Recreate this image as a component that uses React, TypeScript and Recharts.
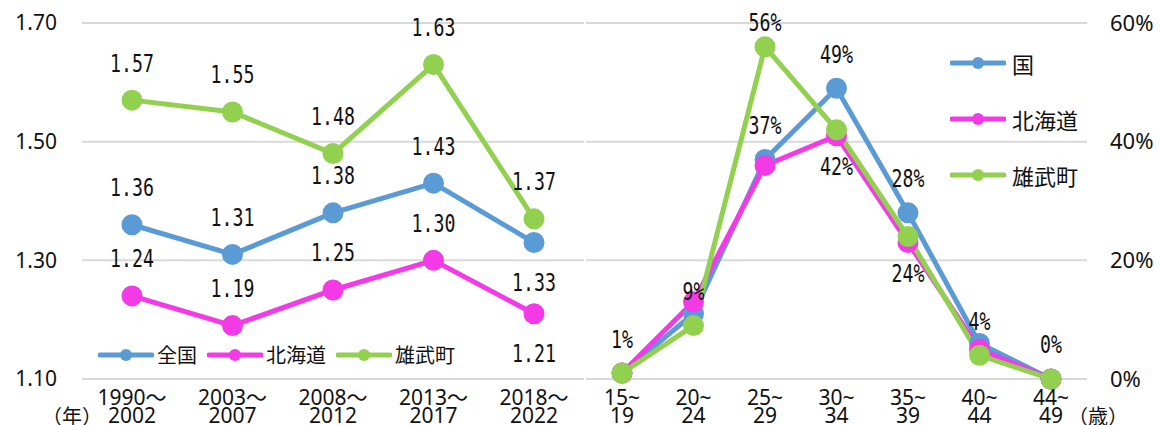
import React from 'react';
import { LineChart, Line, XAxis, YAxis, CartesianGrid, LabelList } from 'recharts';

// 合計特殊出生率（期間別）
const periods = ['1990～\n2002', '2003～\n2007', '2008～\n2012', '2013～\n2017', '2018～\n2022'];
const tfrNation = [1.36, 1.31, 1.38, 1.43, 1.33];
const tfrHokkaido = [1.24, 1.19, 1.25, 1.3, 1.21];
const tfrOumu = [1.57, 1.55, 1.48, 1.63, 1.37];
const tfrTicks = [1.1, 1.3, 1.5, 1.7];
const tfrNames = ['全国', '北海道', '雄武町'];

// 年齢階級別 累積出生率（%）
const ageGroups = ['15~\n19', '20~\n24', '25~\n29', '30~\n34', '35~\n39', '40~\n44', '44~\n49'];
const ageNation = [1, 11, 37, 49, 28, 6, 0];
const ageHokkaido = [1, 13, 36, 41, 23, 5, 0];
const ageOumu = [1, 9, 56, 42, 24, 4, 0];
const pctTicks = [0, 20, 40, 60];
const ageNames = ['国', '北海道', '雄武町'];

const BLUE = '#5b9bd5';
const PINK = '#f43ae6';
const GREEN = '#92d050';
const COLORS = [BLUE, PINK, GREEN];
const GRID = '#d9d9d9';
const TEXT = '#111';
const FONT = '"Noto Sans", "Noto Sans CJK JP", sans-serif';
const CJK = '"Noto Sans CJK JP", sans-serif';

const tfrData = periods.map((p, i) => ({
  period: p,
  nation: tfrNation[i],
  hokkaido: tfrHokkaido[i],
  oumu: tfrOumu[i],
}));

const ageData = ageGroups.map((g, i) => ({
  age: g,
  nation: ageNation[i],
  hokkaido: ageHokkaido[i],
  oumu: ageOumu[i],
}));

function TwoLineTick(props: any) {
  const { x, y, payload } = props;
  const [a, b] = String(payload.value).split('\n');
  return (
    <text x={x} y={y} textAnchor="middle" fontFamily={FONT} fontSize={21} fill={TEXT}>
      <tspan x={x} dy={18}>{a}</tspan>
      <tspan x={x} dy={18}>{b}</tspan>
    </text>
  );
}

// data labels: narrow, tall digits
function makeLabel(opts: { show?: number[]; below?: number[]; fmt: (v: number) => string; gap: number }) {
  return (props: any) => {
    const { x, y, value, index } = props;
    if (x == null || y == null) return null;
    if (opts.show && !opts.show.includes(index)) return null;
    const below = opts.below?.includes(index);
    let ly = below ? y + opts.gap + 3 : y - opts.gap;
    if (ly < 23) ly = 23;
    return (
      <g transform={`translate(${x},${ly}) scale(0.76,1)`}>
        <text
          x={0}
          y={0}
          textAnchor="middle"
          dominantBaseline="central"
          fontFamily='"DejaVu Sans Mono", monospace'
          fontSize={24}
          fill={TEXT}
        >
          {opts.fmt(value)}
        </text>
      </g>
    );
  };
}

const fmt2 = (v: number) => v.toFixed(2);
const fmtPct = (v: number) => `${v}%`;

function LegendIcon({ color }: { color: string }) {
  return (
    <svg width={56} height={14} style={{ display: 'block' }}>
      <line x1={2} y1={7} x2={54} y2={7} stroke={color} strokeWidth={5} strokeLinecap="round" />
      <circle cx={28} cy={7} r={6} fill={color} />
    </svg>
  );
}

export default function App() {
  return (
    <div style={{ position: 'absolute', left: 0, top: 0, width: 1161, height: 425, background: '#fff' }}>
      <div style={{ position: 'absolute', left: 0, top: 0 }}>
        <LineChart width={640} height={425} data={tfrData} margin={{ top: 23, right: 56, left: 0, bottom: 0 }}>
          <CartesianGrid vertical={false} stroke={GRID} strokeWidth={2} />
          <XAxis
            dataKey="period"
            axisLine={false}
            tickLine={false}
            height={46}
            interval={0}
            padding={{ left: 50, right: 50 }}
            tick={<TwoLineTick />}
          />
          <YAxis
            domain={[1.1, 1.7]}
            ticks={tfrTicks}
            tickFormatter={fmt2}
            axisLine={false}
            tickLine={false}
            width={82}
            tickMargin={19}
            tick={{ fontFamily: FONT, fontSize: 21, fill: TEXT }}
          />
          <Line dataKey="nation" name={tfrNames[0]} stroke={BLUE} strokeWidth={5} dot={{ r: 8, fill: BLUE, stroke: BLUE }} isAnimationActive={false}>
            <LabelList dataKey="nation" content={makeLabel({ below: [4], fmt: fmt2, gap: 37 })} />
          </Line>
          <Line dataKey="hokkaido" name={tfrNames[1]} stroke={PINK} strokeWidth={5} dot={{ r: 8, fill: PINK, stroke: PINK }} isAnimationActive={false}>
            <LabelList dataKey="hokkaido" content={makeLabel({ below: [4], fmt: fmt2, gap: 37 })} />
          </Line>
          <Line dataKey="oumu" name={tfrNames[2]} stroke={GREEN} strokeWidth={5} dot={{ r: 8, fill: GREEN, stroke: GREEN }} isAnimationActive={false}>
            <LabelList dataKey="oumu" content={makeLabel({ fmt: fmt2, gap: 37 })} />
          </Line>
        </LineChart>
      </div>
      <div style={{ position: 'absolute', left: 98, top: 343, display: 'flex', alignItems: 'center' }}>
        {tfrNames.map((n, i) => (
          <div key={n} style={{ display: 'flex', alignItems: 'center', marginRight: 10 }}>
            <LegendIcon color={COLORS[i]} />
            <span style={{ fontFamily: CJK, fontSize: 20, color: TEXT, marginLeft: 3, lineHeight: '24px' }}>{n}</span>
          </div>
        ))}
      </div>
      <div style={{ position: 'absolute', left: 42, top: 403, fontFamily: CJK, fontSize: 20, color: TEXT, lineHeight: '26px' }}>
        （年）
      </div>

      <div style={{ position: 'absolute', left: 586, top: 0 }}>
        <LineChart width={575} height={425} data={ageData} margin={{ top: 23, right: 0, left: 0, bottom: 0 }}>
          <CartesianGrid vertical={false} stroke={GRID} strokeWidth={2} />
          <XAxis
            dataKey="age"
            axisLine={false}
            tickLine={false}
            height={46}
            interval={0}
            padding={{ left: 36, right: 36 }}
            tick={<TwoLineTick />}
          />
          <YAxis
            orientation="right"
            domain={[0, 60]}
            ticks={pctTicks}
            tickFormatter={fmtPct}
            axisLine={false}
            tickLine={false}
            width={74}
            tickMargin={17}
            tick={{ fontFamily: FONT, fontSize: 22, fill: TEXT }}
          />
          <Line dataKey="nation" name={ageNames[0]} stroke={BLUE} strokeWidth={5} dot={{ r: 8, fill: BLUE, stroke: BLUE }} isAnimationActive={false}>
            <LabelList dataKey="nation" content={makeLabel({ show: [2, 3, 4], fmt: fmtPct, gap: 34 })} />
          </Line>
          <Line dataKey="hokkaido" name={ageNames[1]} stroke={PINK} strokeWidth={5} dot={{ r: 8, fill: PINK, stroke: PINK }} isAnimationActive={false} />
          <Line dataKey="oumu" name={ageNames[2]} stroke={GREEN} strokeWidth={5} dot={{ r: 8, fill: GREEN, stroke: GREEN }} isAnimationActive={false}>
            <LabelList dataKey="oumu" content={makeLabel({ below: [3, 4], fmt: fmtPct, gap: 34 })} />
          </Line>
        </LineChart>
      </div>
      <div style={{ position: 'absolute', left: 950, top: 35 }}>
        {ageNames.map((n, i) => (
          <div key={n} style={{ display: 'flex', alignItems: 'center', height: 56 }}>
            <LegendIcon color={COLORS[i]} />
            <span style={{ fontFamily: CJK, fontSize: 22, color: TEXT, marginLeft: 6 }}>{n}</span>
          </div>
        ))}
      </div>
      <div style={{ position: 'absolute', left: 1068, top: 403, fontFamily: CJK, fontSize: 20, color: TEXT, lineHeight: '26px' }}>
        （歳）
      </div>
    </div>
  );
}
